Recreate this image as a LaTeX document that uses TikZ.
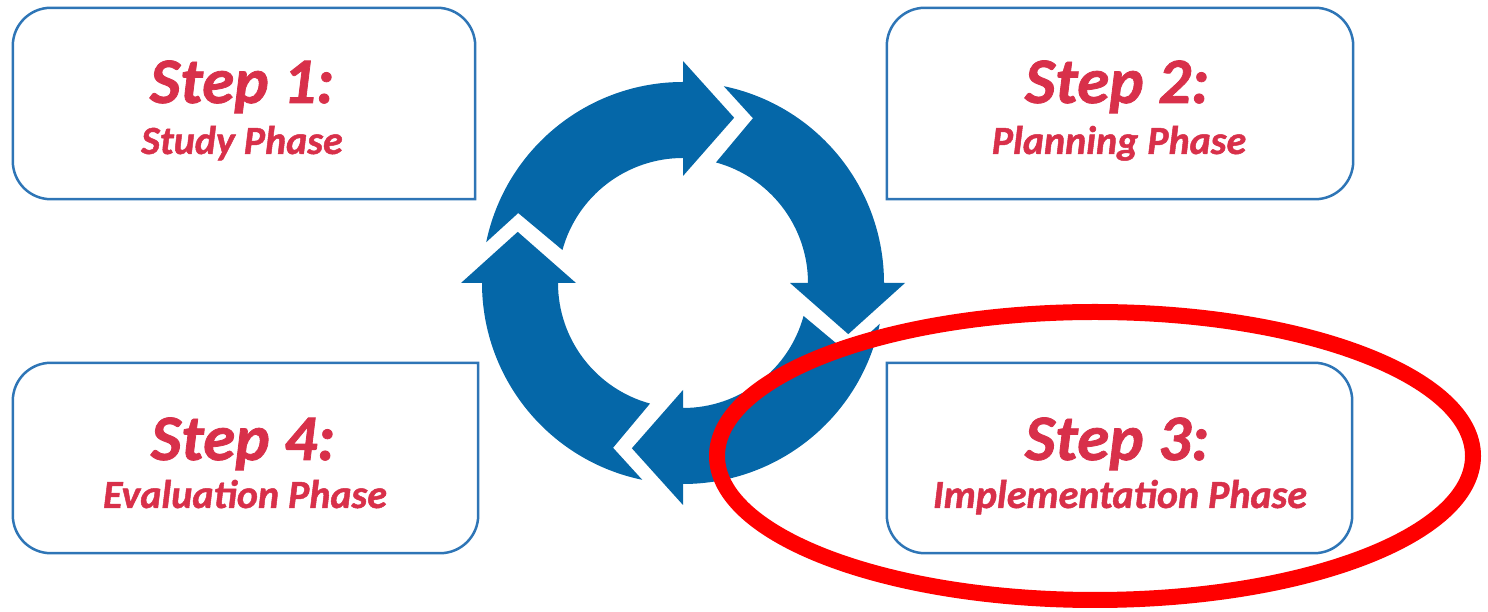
\documentclass[tikz,border=0pt]{standalone}
\usepackage{fontspec}
\setmainfont{Carlito}[BoldItalicFeatures={FakeBold=1.2}]
\definecolor{ringblue}{RGB}{5,103,168}
\definecolor{boxblue}{RGB}{46,117,182}
\definecolor{steptext}{RGB}{216,48,74}
\definecolor{markred}{RGB}{255,0,0}
\begin{document}
\begin{tikzpicture}[x=1pt,y=1pt,
  phasebox/.style={draw=none,minimum height=191pt,inner sep=0pt},
  outline/.style={draw=boxblue,line width=2.5pt,line cap=rect,rounded corners=38pt},
  titletext/.style={anchor=base,text=steptext,font=\fontsize{65}{70}\selectfont\bfseries\itshape,inner sep=0pt},
  subtext/.style={anchor=base,text=steptext,font=\fontsize{40}{44}\selectfont\bfseries\itshape,inner sep=0pt},
  ringarrow/.style={fill=ringblue,draw=none}]
\useasboundingbox (0,0) rectangle (1488,612);
% cycle arrows
\foreach \k in {0,1,2,3}{
  \begin{scope}[shift={(683,329)},rotate=-90*\k]
    \path[ringarrow] (168.3:201) arc[start angle=168.3,end angle=90,radius=201pt]
      -- (90:222) -- (72.8:173) -- (90:107) -- (90:125)
      arc[start angle=90,end angle=164.7,radius=125pt] -- (157:179) -- cycle;
  \end{scope}
}
% boxes
\node[phasebox,minimum width=462pt] (s1) at (244,508.5) {};
\node[phasebox,minimum width=466pt] (s2) at (1120,508.5) {};
\node[phasebox,minimum width=465pt,minimum height=190pt] (s4) at (245.5,154) {};
\node[phasebox,minimum width=465pt,minimum height=190pt] (s3) at (1119.5,154) {};
\draw[outline] (s1.south east) -- (s1.south west) -- (s1.north west) -- (s1.north east) -- (s1.south east);
\draw[outline] (s2.south west) -- (s2.north west) -- (s2.north east) -- (s2.south east) -- (s2.south west);
\draw[outline] (s4.north east) -- (s4.south east) -- (s4.south west) -- (s4.north west) -- (s4.north east);
\draw[outline] (s3.north west) -- (s3.north east) -- (s3.south east) -- (s3.south west) -- (s3.north west);
% texts
\node[titletext] (t1) at (242,509) {Step 1:};
\node[subtext] (u1) at (242,458) {Study Phase};
\node[titletext] (t2) at (1117,509) {Step 2:};
\node[subtext] (u2) at (1119,458) {Planning Phase};
\node[titletext] (t4) at (243,152) {Step 4:};
\node[subtext] (u4) at (245,104) {Evaluation Phase};
\node[titletext] (t3) at (1117,152) {Step 3:};
\node[subtext] (u3) at (1120,104) {Implementation Phase};
% red highlight
\draw[markred,line width=16pt] (1095,156) ellipse[x radius=378pt,y radius=144pt];
\end{tikzpicture}
\end{document}
